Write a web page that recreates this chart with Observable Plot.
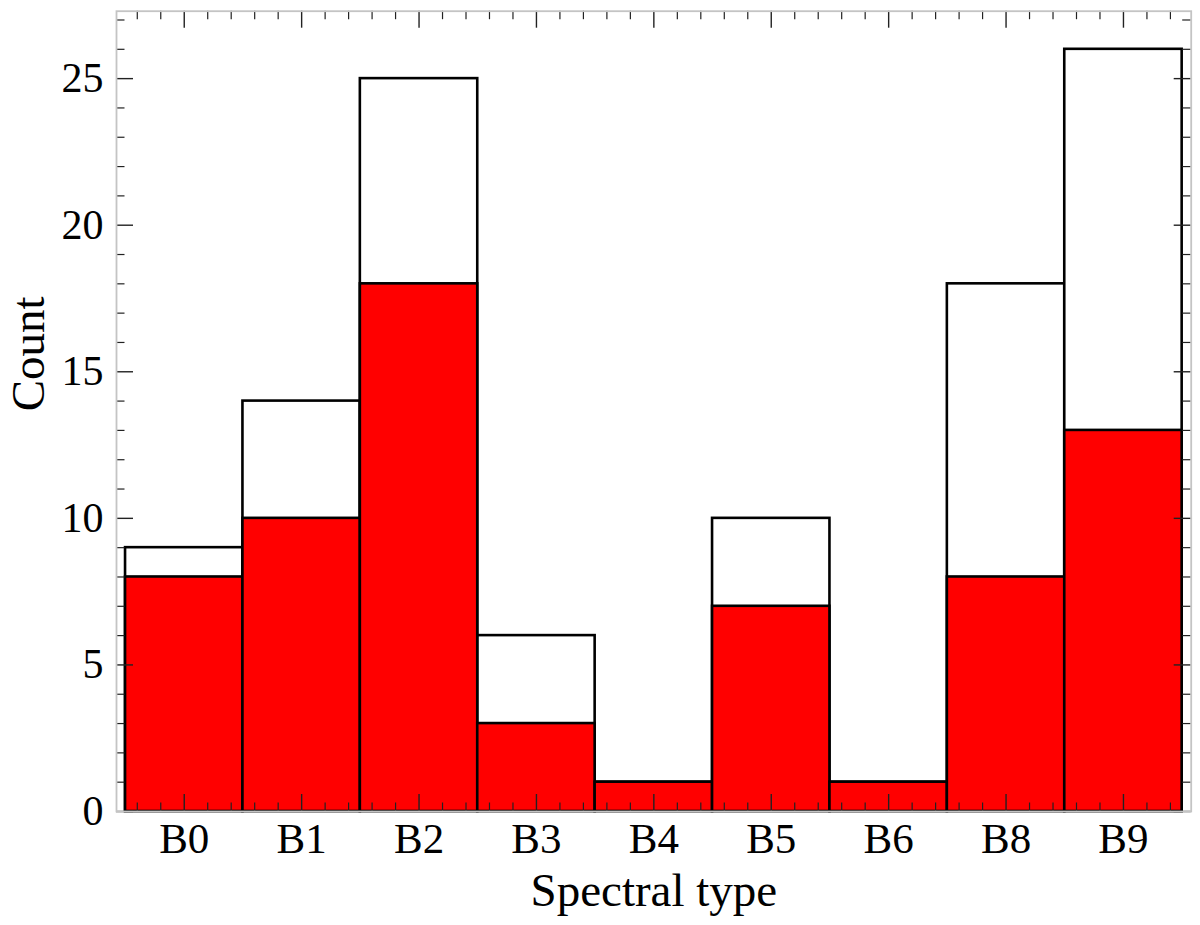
<!DOCTYPE html>
<html>
<head>
<meta charset="utf-8">
<script src="https://cdn.jsdelivr.net/npm/d3@7"></script>
<script src="https://cdn.jsdelivr.net/npm/@observablehq/plot@0.6"></script>
<style>
  html, body { margin: 0; padding: 0; background: #fff; }
  #chart { width: 1200px; height: 925px; }
</style>
</head>
<body>
<div id="chart"></div>
<script>
const categories = ["B0", "B1", "B2", "B3", "B4", "B5", "B6", "B8", "B9"];
const totalCounts = [9, 14, 25, 6, 1, 10, 1, 18, 26];
const redCounts = [8, 10, 18, 3, 1, 7, 1, 8, 13];
const yMajorTicks = [0, 5, 10, 15, 20, 25];
const yMinorTicks = d3.range(0, 28).filter(v => v % 5 !== 0);
const xMajorTicks = categories.map((c, i) => i);
const xMinorTicks = d3.range(-2, 43).map(k => k / 5).filter(v => Math.abs(v - Math.round(v)) > 1e-6 && v > -0.577 && v < 8.577);

const rows = categories.map((c, i) => ({cat: c, i, total: totalCounts[i], red: redCounts[i]}));

const W = 1200, H = 925;
const mL = 116, mR = 9.3, mT = 10.7, mB = 114;
const plotH = H - mT - mB;
const plotW = W - mL - mR;
const font = "'Liberation Serif', 'DejaVu Serif', serif";
const majorLen = 17, minorLen = 8.5;
const tickColor = "#222";

const chart = Plot.plot({
  width: W,
  height: H,
  marginLeft: mL,
  marginRight: mR,
  marginTop: mT,
  marginBottom: mB,
  style: {fontFamily: font, background: "#fff"},
  x: {type: "linear", domain: [-0.577, 8.577], axis: null},
  y: {domain: [0, 27.3], axis: null},
  marks: [
    Plot.rectY(rows, {x1: d => d.i - 0.5, x2: d => d.i + 0.5, y1: 0, y2: "total", fill: "white", stroke: "black", strokeWidth: 2.6}),
    Plot.rectY(rows, {x1: d => d.i - 0.5, x2: d => d.i + 0.5, y1: 0, y2: "red", fill: "#ff0000", stroke: "black", strokeWidth: 2.6}),
    Plot.tickX(xMajorTicks, {x: d => d, insetTop: plotH - majorLen, stroke: tickColor, strokeWidth: 1.4}),
    Plot.tickX(xMajorTicks, {x: d => d, insetBottom: plotH - majorLen, stroke: tickColor, strokeWidth: 1.4}),
    Plot.tickX(xMinorTicks, {x: d => d, insetTop: plotH - minorLen, stroke: tickColor, strokeWidth: 1.2}),
    Plot.tickX(xMinorTicks, {x: d => d, insetBottom: plotH - minorLen, stroke: tickColor, strokeWidth: 1.2}),
    Plot.tickY(yMajorTicks, {y: d => d, insetRight: plotW - majorLen, stroke: tickColor, strokeWidth: 1.4}),
    Plot.tickY(yMajorTicks, {y: d => d, insetLeft: plotW - majorLen, stroke: tickColor, strokeWidth: 1.4}),
    Plot.tickY(yMinorTicks, {y: d => d, insetRight: plotW - minorLen, stroke: tickColor, strokeWidth: 1.2}),
    Plot.tickY(yMinorTicks, {y: d => d, insetLeft: plotW - minorLen, stroke: tickColor, strokeWidth: 1.2}),
    Plot.frame({stroke: "#c4c4c4", strokeWidth: 1.8}),
    Plot.axisX(xMajorTicks, {anchor: "bottom", tickSize: 0, tickPadding: 11, tickFormat: i => categories[i], fontSize: 43, label: null, fill: "black"}),
    Plot.axisY(yMajorTicks, {anchor: "left", tickSize: 0, tickPadding: 13, fontSize: 42, label: null, fill: "black"}),
    Plot.text(["Spectral type"], {frameAnchor: "bottom", dy: 79, fontSize: 47, fill: "black", lineAnchor: "middle"}),
    Plot.text(["Count"], {frameAnchor: "left", dx: -88, rotate: -90, fontSize: 47, fill: "black", lineAnchor: "middle"})
  ]
});
document.getElementById("chart").appendChild(chart);
</script>
</body>
</html>
